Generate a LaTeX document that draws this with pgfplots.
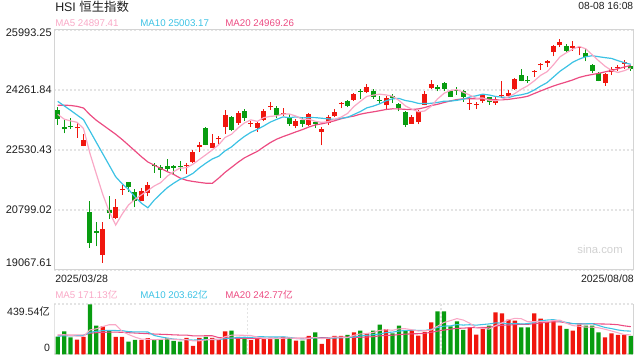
\documentclass[border=0pt]{standalone}
\usepackage{pgfplots}
\pgfplotsset{compat=1.18}
\usepackage{pgfplotstable}
\usepackage{fontspec}
\setmainfont{Liberation Sans}
\newfontfamily\cjk{Noto Sans CJK SC}
\definecolor{up}{RGB}{240,22,14}
\definecolor{dn}{RGB}{8,156,16}
\definecolor{ma5}{RGB}{249,168,198}
\definecolor{ma10}{RGB}{60,194,228}
\definecolor{ma20}{RGB}{236,76,130}
\definecolor{bord}{RGB}{212,212,212}
\definecolor{gridc}{RGB}{228,228,228}
\definecolor{txt}{RGB}{30,30,30}

% red (close > open) candles: i, wick (low/high), body (bottom/top)
\pgfplotstableread{
i w b
3 22877 23160
3 23310 23190
nan nan nan
4 22636 22656
4 22992 22819
nan nan nan
7 19270 19510
7 20443 20251
nan nan nan
9 20549 20568
9 21126 20886
nan nan nan
10 21241 21385
10 21511 21415
nan nan nan
13 21049 21068
13 21434 21338
nan nan nan
14 21193 21299
14 21607 21520
nan nan nan
20 21838 22059
20 22155 22107
nan nan nan
21 22155 22184
21 22540 22473
nan nan nan
22 22473 22607
22 22761 22665
nan nan nan
24 22580 22588
24 22992 22733
nan nan nan
25 22704 22835
25 22925 22865
nan nan nan
26 22992 23194
26 23685 23531
nan nan nan
28 23262 23310
28 23646 23598
nan nan nan
30 23194 23280
30 23358 23310
nan nan nan
31 23050 23165
31 23358 23310
nan nan nan
32 23358 23406
32 23704 23656
nan nan nan
33 23685 23760
33 23916 23790
nan nan nan
35 23502 23555
35 23742 23585
nan nan nan
37 23165 23233
37 23425 23367
nan nan nan
39 23233 23262
39 23608 23560
nan nan nan
41 22665 23060
41 23185 23136
nan nan nan
42 23262 23300
42 23531 23473
nan nan nan
43 23473 23502
43 23714 23627
nan nan nan
44 23733 23855
44 23916 23885
nan nan nan
46 23954 23983
46 24175 24146
nan nan nan
48 24175 24204
48 24435 24348
nan nan nan
51 23704 23819
51 24089 24031
nan nan nan
55 23281 23290
55 23531 23483
nan nan nan
56 23271 23348
56 23694 23646
nan nan nan
57 23819 23838
57 24223 24146
nan nan nan
58 24291 24320
58 24541 24435
nan nan nan
64 23694 23865
64 24050 23895
nan nan nan
65 23723 23825
65 23916 23855
nan nan nan
66 23896 23935
66 24137 24108
nan nan nan
68 23838 23877
68 24079 24012
nan nan nan
69 24031 24085
69 24512 24115
nan nan nan
70 24069 24089
70 24271 24185
nan nan nan
71 24271 24291
71 24608 24589
nan nan nan
74 24637 24775
74 24849 24805
nan nan nan
75 24849 24970
75 25041 25000
nan nan nan
76 24916 25041
76 25137 25108
nan nan nan
77 25233 25358
77 25570 25541
nan nan nan
78 25512 25551
78 25734 25647
nan nan nan
80 25397 25474
80 25666 25522
nan nan nan
81 25262 25460
81 25522 25490
nan nan nan
85 24387 24464
85 24752 24724
nan nan nan
86 24704 24772
86 24935 24877
nan nan nan
87 24801 24885
87 24974 24915
nan nan nan
88 24877 25012
88 25137 25060
}\upt

% green (close < open) candles
\pgfplotstableread{
i w b
0 23262 23435
0 23762 23675
nan nan nan
1 23011 23127
1 23406 23194
nan nan nan
2 23136 23194
2 23454 23223
nan nan nan
5 19703 19847
5 21049 20741
nan nan nan
6 19751 20140
6 20453 20180
nan nan nan
8 20539 20703
8 21213 20799
nan nan nan
11 21318 21472
11 21615 21607
nan nan nan
12 20876 21068
12 21415 21318
nan nan nan
15 21867 22060
15 22155 22090
nan nan nan
16 21722 21953
16 22107 22030
nan nan nan
17 21915 21982
17 22271 22078
nan nan nan
18 21818 22011
18 22107 22069
nan nan nan
19 21915 22030
19 22203 22078
nan nan nan
23 22665 22684
23 23204 23165
nan nan nan
27 23069 23117
27 23500 23483
nan nan nan
29 23367 23454
29 23714 23656
nan nan nan
34 23454 23531
34 23791 23742
nan nan nan
36 23233 23290
36 23569 23492
nan nan nan
38 23185 23290
38 23473 23396
nan nan nan
40 23165 23281
40 23358 23329
nan nan nan
45 23762 23800
45 23964 23944
nan nan nan
47 24012 24210
47 24300 24240
nan nan nan
49 24012 24060
49 24281 24223
nan nan nan
50 23858 23940
50 24079 23970
nan nan nan
52 23887 24031
52 24137 24098
nan nan nan
53 23646 23742
53 23877 23848
nan nan nan
54 23194 23262
54 23656 23637
nan nan nan
59 24223 24305
59 24406 24335
nan nan nan
60 24223 24300
60 24483 24454
nan nan nan
61 24055 24060
61 24271 24243
nan nan nan
62 24127 24245
62 24358 24275
nan nan nan
63 23916 24069
63 24271 24223
nan nan nan
67 23838 23906
67 24069 24050
nan nan nan
72 24512 24531
72 24868 24695
nan nan nan
73 24464 24512
73 24656 24560
nan nan nan
79 25358 25397
79 25589 25541
nan nan nan
82 25089 25204
82 25455 25339
nan nan nan
83 24752 24801
83 25012 24993
nan nan nan
84 24512 24531
84 24772 24752
nan nan nan
89 24820 24877
89 24993 24964
}\dnt

% moving averages of the index
\pgfplotstableread{
i m5 m10 m20
0 23560 23935 23820
1 23420 23805 23825
2 23370 23675 23815
3 23330 23540 23790
4 23152 23406 23742
5 22435 23080 23550
6 21838 22750 23387
7 21248 22420 23253
8 20753 22090 23119
9 20366 21759 22985
10 20679 21557 22834
11 20944 21391 22670
12 21108 21178 22503
13 21235 20994 22337
14 21362 20864 22184
15 21493 21086 22091
16 21590 21267 21998
17 21772 21440 21907
18 21907 21571 21826
19 22009 21685 21722
20 22017 21755 21656
21 22121 21855 21623
22 22257 22015 21596
23 22392 22149 21572
24 22532 22271 21567
25 22682 22350 21718
26 22894 22507 21887
27 22984 22621 22030
28 23167 22780 22175
29 23311 22922 22304
30 23400 23041 22398
31 23356 23125 22490
32 23464 23224 22619
33 23500 23334 22742
34 23516 23414 22842
35 23571 23486 22918
36 23567 23462 22984
37 23510 23487 23054
38 23411 23456 23118
39 23417 23466 23194
40 23358 23465 23253
41 23327 23447 23286
42 23348 23429 23326
43 23415 23413 23374
44 23479 23448 23431
45 23583 23470 23478
46 23785 23556 23509
47 23933 23640 23564
48 24077 23746 23601
49 24114 23796 23631
50 24142 23863 23664
51 24119 23952 23700
52 24083 24008 23718
53 23962 24019 23716
54 23802 23958 23703
55 23710 23926 23698
56 23633 23876 23716
57 23656 23869 23755
58 23794 23878 23812
59 24004 23903 23850
60 24167 23939 23901
61 24250 23942 23947
62 24271 23964 23986
63 24198 23996 24008
64 24114 24059 24008
65 24023 24095 24011
66 24033 24142 24009
67 23964 24118 23993
68 23952 24075 23977
69 23996 24055 23979
70 24064 24044 23991
71 24160 24096 24019
72 24285 24124 24044
73 24385 24169 24082
74 24524 24260 24159
75 24685 24375 24235
76 24789 24475 24308
77 24991 24638 24378
78 25218 24802 24438
79 25337 24930 24493
80 25443 25064 24554
81 25518 25154 24625
82 25451 25221 24673
83 25281 25250 24709
84 25108 25223 24741
85 24949 25196 24785
86 24827 25173 24824
87 24768 25109 24874
88 24820 25051 24926
89 24897 25003 24969
}\mat

% volume (100 million HKD): red / green bars and moving averages
\pgfplotstableread{
i vr vg m5 m10 m20
0 nan 156 170 160 168
1 nan 201 172 162 168
2 nan 148 165 163 168
3 130 nan 160 164 168
4 153 nan 158 165 168
5 nan 439.54 214 193 185
6 nan 251 224 202 190
7 245 nan 244 208 193
8 nan 209 260 211 195
9 153 nan 260 209 195
10 153 nan 202 208 193
11 nan 112 174 199 190
12 nan 127 151 197 187
13 127 nan 134 197 184
14 142 nan 132 196 181
15 nan 133 128 165 178
16 nan 130 132 153 176
17 nan 142 135 143 174
18 nan 118 133 134 171
19 nan 112 127 130 169
20 145 nan 129 129 169
21 74 nan 118 125 162
22 145 nan 119 127 162
23 nan 153 126 129 163
24 145 nan 132 130 163
25 133 nan 130 130 147
26 201 nan 155 137 145
27 nan 207 168 143 143
28 153 nan 168 147 140
29 nan 142 167 150 140
30 124 nan 165 148 138
31 133 nan 152 154 139
32 145 nan 139 154 140
33 145 nan 138 153 141
34 nan 136 137 152 141
35 153 nan 142 154 142
36 nan 142 144 148 142
37 121 nan 139 139 141
38 nan 121 135 136 142
39 162 nan 140 138 144
40 nan 192 148 145 146
41 91 nan 137 141 147
42 148 nan 143 141 147
43 162 nan 151 143 148
44 162 nan 151 145 149
45 nan 171 147 147 151
46 192 nan 167 152 150
47 nan 207 179 161 150
48 183 nan 183 167 152
49 nan 207 192 172 155
50 nan 260 210 178 162
51 221 nan 216 191 166
52 nan 183 211 195 168
53 nan 251 224 204 173
54 nan 212 225 209 177
55 212 nan 216 213 180
56 165 nan 205 210 181
57 198 nan 208 209 185
58 280 nan 213 219 193
59 nan 378 247 236 204
60 nan 378 280 248 213
61 nan 245 296 250 221
62 nan 289 314 261 228
63 nan 215 301 257 230
64 236 nan 273 260 234
65 174 nan 232 256 234
66 227 nan 228 262 236
67 nan 251 221 267 238
68 369 nan 251 276 248
69 360 nan 276 274 255
70 304 nan 302 267 257
71 295 nan 316 272 261
72 nan 236 313 267 264
73 nan 236 286 269 263
74 360 nan 286 281 270
75 313 nan 288 295 275
76 289 nan 287 301 282
77 289 nan 297 305 286
78 251 nan 300 293 285
79 nan 224 273 280 277
80 209 nan 252 270 269
81 260 nan 247 267 269
82 nan 251 239 268 267
83 nan 251 239 270 269
84 nan 192 233 253 267
85 148 nan 220 236 266
86 183 nan 205 226 264
87 171 nan 189 214 260
88 171 nan 173 206 250
89 nan 162 171 204 243
}\volt

\begin{document}
\begin{tikzpicture}
\path[use as bounding box] (0,0) rectangle (480pt,270pt);

% ---------- price panel ----------
\begin{axis}[
  at={(40.875pt,67.5pt)}, anchor=south west,
  scale only axis, width=434.625pt, height=180pt,
  xmin=-0.5, xmax=89.5, ymin=19067.61, ymax=25993.25,
  scaled ticks=false,
  xtick=\empty,
  ytick={19067.61,20799.02,22530.43,24261.84,25993.25},
  yticklabels={{\raisebox{5.2pt}{19067.61}},{20799.02},{22530.43},{24261.84},{\raisebox{-2.25pt}{25993.25}}},
  yticklabel style={anchor=base east, inner sep=0pt, xshift=-1.9pt, yshift=-2.8pt,
    font=\fontsize{8.25}{10}\selectfont, text=txt},
  major tick length=0pt,
  ymajorgrids,
  grid style={gridc, line width=1.2pt, dash pattern=on 1.5pt off 1.5pt},
  axis line style={bord, line width=0.75pt},
  unbounded coords=jump,
]
\addplot[up, line width=0.75pt] table[x=i, y=w] {\upt};
\addplot[up, line width=3.75pt] table[x=i, y=b] {\upt};
\addplot[dn, line width=0.75pt] table[x=i, y=w] {\dnt};
\addplot[dn, line width=3.75pt] table[x=i, y=b] {\dnt};
\addplot[ma20, line width=0.9pt] table[x=i, y=m20] {\mat};
\addplot[ma10, line width=0.9pt] table[x=i, y=m10] {\mat};
\addplot[ma5, line width=0.9pt] table[x=i, y=m5] {\mat};
\end{axis}

% ---------- volume panel ----------
\begin{axis}[
  at={(40.875pt,4.275pt)}, anchor=south west,
  scale only axis, width=434.625pt, height=37.5pt,
  xmin=-0.5, xmax=89.5, ymin=0, ymax=439.54,
  scaled ticks=false,
  xtick={29.5,59.5}, xticklabels={},
  ytick={0,439.54},
  yticklabels={{\raisebox{1.95pt}{0}},{\raisebox{-8.55pt}{439.54{\cjk 亿}}}},
  yticklabel style={anchor=base east, inner sep=0pt, xshift=-3.2pt,
    font=\fontsize{7.9}{10}\selectfont, text=txt},
  major tick length=0pt,
  xmajorgrids, ymajorgrids,
  grid style={gridc, line width=1.2pt, dash pattern=on 1.5pt off 1.5pt},
  axis line style={draw=none},
]
\addplot[ybar, bar width=3.2pt, bar shift=0pt, fill=up, draw=none] table[x=i, y=vr] {\volt};
\addplot[ybar, bar width=3.2pt, bar shift=0pt, fill=dn, draw=none] table[x=i, y=vg] {\volt};
\addplot[ma20, line width=0.8pt] table[x=i, y=m20] {\volt};
\addplot[ma10, line width=0.8pt] table[x=i, y=m10] {\volt};
\addplot[ma5, line width=0.8pt] table[x=i, y=m5] {\volt};
\draw[bord, line width=0.75pt] (rel axis cs:0,0) -- (rel axis cs:0,1);
\draw[bord, line width=0.75pt] (rel axis cs:1,0) -- (rel axis cs:1,1);
\end{axis}

% ---------- texts ----------
\node[anchor=base west, inner sep=0pt, font=\fontsize{9.3}{11}\selectfont, text=txt] at (41.25pt,261.2pt) {HSI {\cjk 恒生指数}};
\node[anchor=base east, inner sep=0pt, font=\fontsize{7.7}{9}\selectfont, text=txt] at (475.1pt,263pt) {08-08 16:08};
\node[anchor=base west, inner sep=0pt, font=\fontsize{7.3}{9}\selectfont, text=ma5] at (41.25pt,250pt) {MA5 24897.41};
\node[anchor=base west, inner sep=0pt, font=\fontsize{7.3}{9}\selectfont, text=ma10] at (105pt,250pt) {MA10 25003.17};
\node[anchor=base west, inner sep=0pt, font=\fontsize{7.3}{9}\selectfont, text=ma20] at (168.75pt,250pt) {MA20 24969.26};
\node[anchor=base east, inner sep=0pt, font=\fontsize{8.5}{10}\selectfont, text=black!18] at (467.25pt,80pt) {sina.com};
\node[anchor=base west, inner sep=0pt, font=\fontsize{7.9}{9}\selectfont, text=txt] at (41.25pt,58.3pt) {2025/03/28};
\node[anchor=base east, inner sep=0pt, font=\fontsize{7.9}{9}\selectfont, text=txt] at (475.5pt,58.3pt) {2025/08/08};
\node[anchor=base west, inner sep=0pt, font=\fontsize{7.3}{9}\selectfont, text=ma5] at (41.25pt,46.3pt) {MA5 171.13{\cjk 亿}};
\node[anchor=base west, inner sep=0pt, font=\fontsize{7.3}{9}\selectfont, text=ma10] at (105pt,46.3pt) {MA10 203.62{\cjk 亿}};
\node[anchor=base west, inner sep=0pt, font=\fontsize{7.3}{9}\selectfont, text=ma20] at (168.75pt,46.3pt) {MA20 242.77{\cjk 亿}};
\end{tikzpicture}
\end{document}
